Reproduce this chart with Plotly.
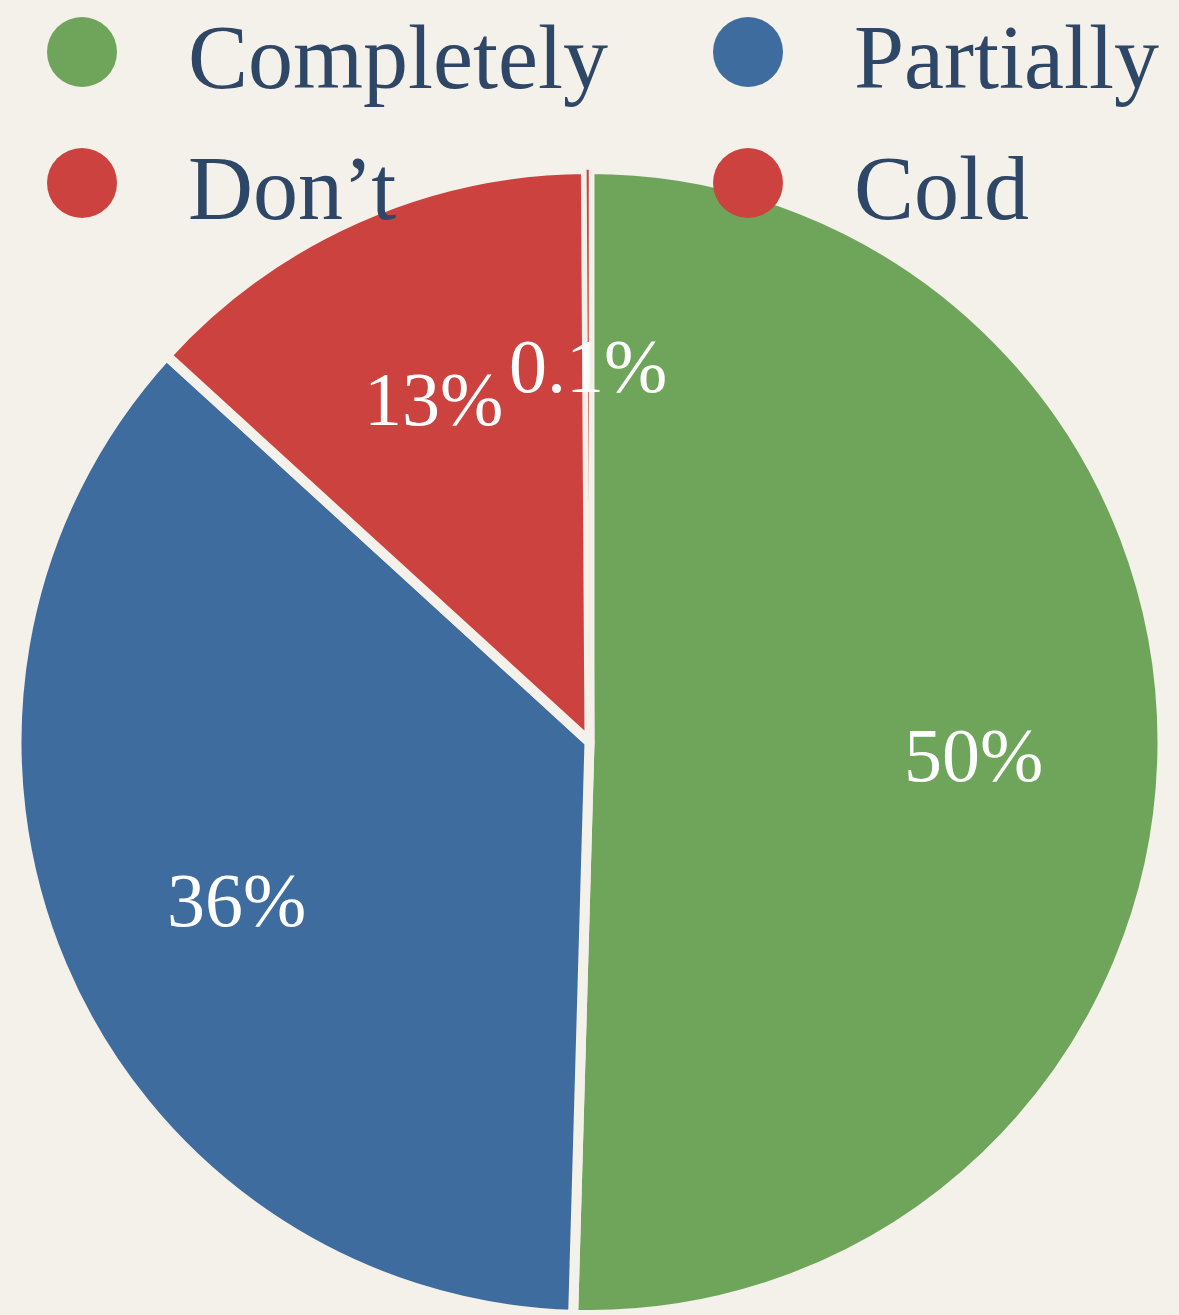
import math
import plotly.graph_objects as go

# Share of respondents per answer
categories = ["Completely", "Partially", "Don\u2019t", "Cold"]
values = [50, 36, 13, 0.1]
value_labels = ["50%", "36%", "13%", "0.1%"]
colors = ["#6fa55a", "#3e6c9e", "#cb423e", "#cb423e"]

W, H = 1179, 1315
BG = "#f4f0ea"
TEXT_DARK = "#2f4767"
SERIF = "Palatino Linotype, Book Antiqua, Palatino, Liberation Serif, serif"

pie_top = 1146 / H  # top of the pie domain (paper fraction)
gap = 10

fig = go.Figure()
fig.add_trace(go.Pie(
    labels=categories,
    values=values,
    sort=False,
    direction="clockwise",
    rotation=0,
    textinfo="none",
    hoverinfo="label+percent",
    showlegend=False,
    marker=dict(colors=colors, line=dict(color=BG, width=[gap, gap, gap, 1.5])),
    domain=dict(x=[0, 1], y=[0, pie_top]),
))

# Slice labels placed at the middle angle of each slice
dom_h = pie_top * H
radius = min(W, dom_h) / 2
cx = W / 2
cy = H - dom_h / 2
total = sum(values)
acc = 0.0
annotations = []
for v, lab in zip(values, value_labels):
    mid = (acc + v / 2) / total * 2 * math.pi
    acc += v
    r = 0.67 * radius
    px = cx + r * math.sin(mid)
    py = cy - r * math.cos(mid) + 8
    annotations.append(dict(
        x=px / W, y=1 - py / H, xref="paper", yref="paper",
        text=lab, showarrow=False, xanchor="center", yanchor="middle",
        font=dict(family=SERIF, size=76, color="white"),
    ))

# Two-column legend with large round markers
shapes = []
legend_cols = [82, 748]
legend_rows = [52, 183]
for i, (name, col) in enumerate(zip(categories, colors)):
    mx = legend_cols[i % 2]
    my = legend_rows[i // 2]
    shapes.append(dict(
        type="circle", xref="paper", yref="paper",
        xsizemode="pixel", ysizemode="pixel",
        xanchor=mx / W, yanchor=1 - my / H,
        x0=-35, x1=35, y0=-35, y1=35,
        fillcolor=col, line=dict(width=0), layer="above",
    ))
    annotations.append(dict(
        x=(mx + 104) / W, y=1 - (my + 5) / H, xref="paper", yref="paper",
        text=name, showarrow=False, xanchor="left", yanchor="middle",
        font=dict(family=SERIF, size=90, color=TEXT_DARK),
    ))

fig.update_layout(
    width=W, height=H,
    margin=dict(l=0, r=0, t=0, b=0),
    paper_bgcolor=BG, plot_bgcolor=BG,
    shapes=shapes,
    annotations=annotations,
)

fig.write_html("out.html")
